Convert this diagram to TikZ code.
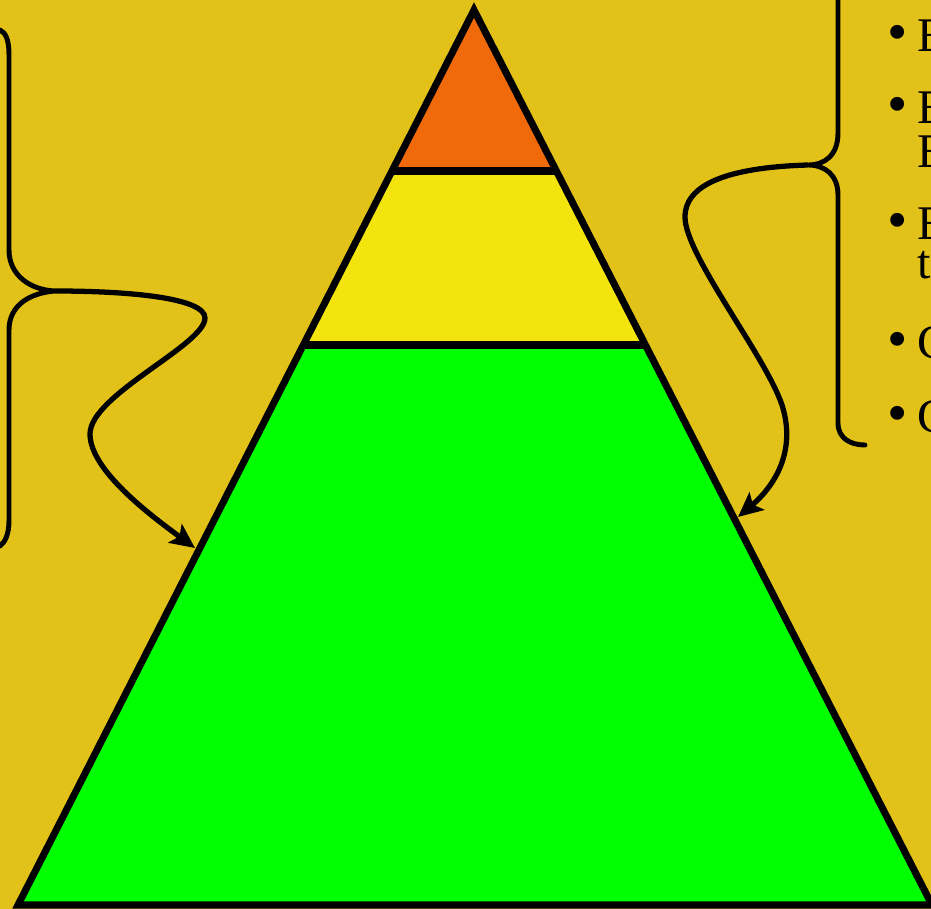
\documentclass[tikz,border=0pt]{standalone}
\usepackage{fontspec}
\setmainfont{Liberation Serif}
\usepackage{xcolor}
\usepackage{tikz}
\usetikzlibrary{arrows.meta}
\definecolor{bgyel}{RGB}{226,194,24}
\definecolor{toporange}{RGB}{240,106,12}
\definecolor{midyel}{RGB}{242,228,12}
\definecolor{lowgreen}{RGB}{0,255,0}

\begin{document}
\begin{tikzpicture}[
  x=0.02cm, y=-0.02cm,
  band/.style={line width=4pt, line join=miter},
  brc/.style={line width=2.8pt, line cap=round},
  arr/.style={-{Stealth[length=14pt, width=13pt, inset=3pt]}, line width=3pt},
  itm/.style={anchor=base west, inner sep=0pt, font=\fontsize{27.5}{25}\selectfont},
  dot/.style={anchor=base west, inner sep=0pt, font=\fontsize{33}{25}\selectfont}
]
\fill[bgyel] (0,0) rectangle (931,909);
\useasboundingbox (0,0) rectangle (931,909);
% pyramid corners
\coordinate (apex) at (474,10);
\coordinate (bl) at (18,905);
\coordinate (br) at (932,905);
\coordinate (l1) at (392,171); \coordinate (r1) at (556,171);
\coordinate (l2) at (304,345); \coordinate (r2) at (645,345);
\fill[lowgreen] (l2) -- (r2) -- (br) -- (bl) -- cycle;
\fill[midyel] (l1) -- (r1) -- (r2) -- (l2) -- cycle;
\fill[toporange] (apex) -- (r1) -- (l1) -- cycle;
\draw[band] (apex) -- (br) -- (bl) -- cycle;
\draw[band] (l1) -- (r1);
\draw[band] (l2) -- (r2);
% braces
\coordinate (ltip) at (55,291);
\coordinate (rtip) at (808,165);
\draw[brc] (0,30) .. controls (6,33) and (9,40) .. (9,55) -- (9,250)
  .. controls (9,275) and (30,290) .. (ltip)
  .. controls (30,293) and (9,305) .. (9,330) -- (9,520)
  .. controls (9,535) and (5,542) .. (0,546);
\draw[brc] (838,-10) -- (838,133) .. controls (838,155) and (825,165) .. (rtip)
  .. controls (825,165) and (838,175) .. (838,195) -- (838,423)
  .. controls (838,438) and (850,445) .. (865,445);
% arrows to the pyramid
\coordinate (ltarget) at (195,548);
\coordinate (rtarget) at (738,517);
\draw[arr] (ltip) .. controls (130,291) and (205,298) .. (205,318)
  .. controls (205,345) and (90,395) .. (90,434)
  .. controls (90,470) and (150,515) .. (ltarget);
\draw[arr] (rtip) .. controls (740,167) and (685,180) .. (685,217)
  .. controls (685,255) and (765,355) .. (782,405)
  .. controls (798,455) and (770,490) .. (rtarget);
% bullet list
\foreach \yy/\nm in {52/b1, 124/b2, 240/b3, 358/b4, 432/b5}
  \node[dot] (\nm) at (887,\yy) {•};
\node[itm] (t1) at (917,52) {E};
\node[itm] (t2a) at (917,124) {E};
\node[itm] (t2b) at (917,168) {E};
\node[itm] (t3a) at (917,240) {E};
\node[itm] (t3b) at (917,278) {t};
\node[itm] (t4) at (917,358) {C};
\node[itm] (t5) at (917,432) {C};
\end{tikzpicture}
\end{document}
